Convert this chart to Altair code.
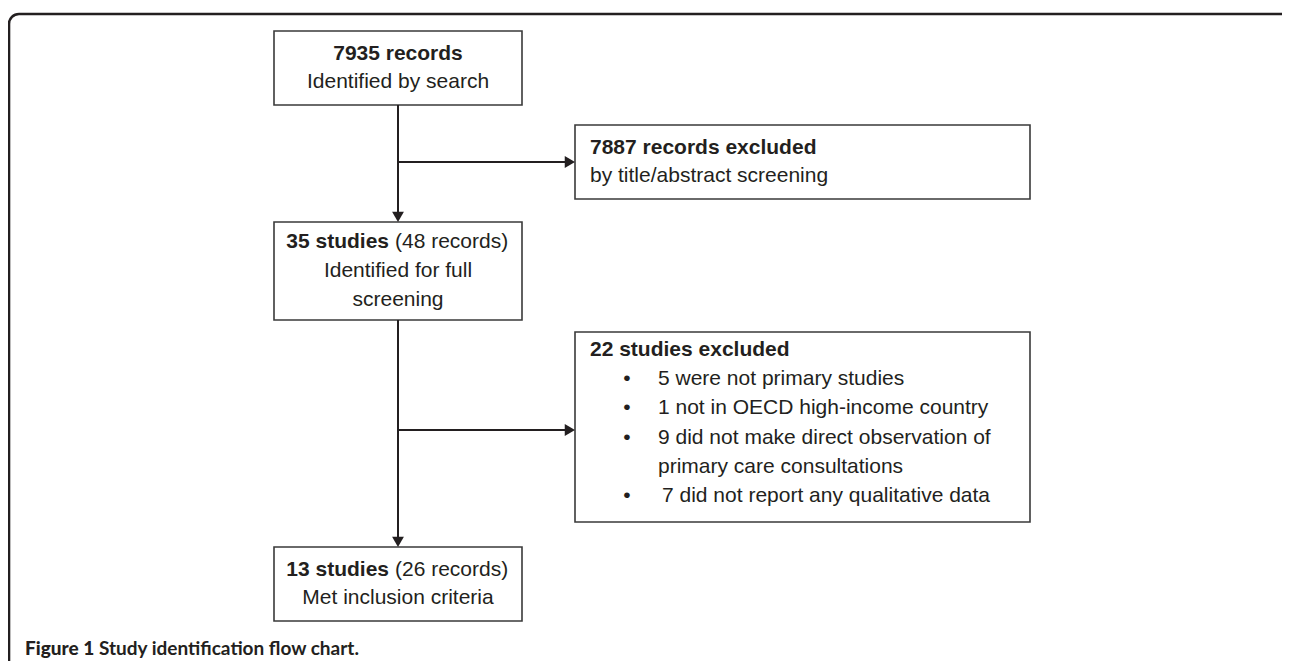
import altair as alt
import pandas as pd

# ---------------- content ----------------
heading_bold = ["7935 records", "7887 records excluded", "35 studies", "22 studies excluded", "13 studies"]
heading_rest = ["", "", "(48 records)", "", "(26 records)"]
box_notes = [["Identified by search"], ["by title/abstract screening"],
             ["Identified for full", "screening"], [], ["Met inclusion criteria"]]
reasons = ["5 were not primary studies", "1 not in OECD high-income country",
           "9 did not make direct observation of", "primary care consultations",
           "7 did not report any qualitative data"]
reason_bullet = [True, True, True, False, True]
caption_bold = "Figure 1"
caption_rest = "Study identification flow chart."

# ---------------- layout (page pixels) ----------------
W, H = 1274, 653
box_x0 = [274, 575, 274, 575, 274]
box_x1 = [522, 1030, 522, 1030, 522]
box_y0 = [31, 125, 222, 332, 547]
box_y1 = [105, 199, 320, 522, 621]
box_centered = [True, False, True, False, True]
line_gap = 28.7
spine_x = 398
branch_y = [162, 430]
text_inset = 15

ink = "#231f20"
box_stroke = "#3a3a3a"
FONT = "Liberation Sans"
FS = 21

X = lambda f: alt.X(f, type="quantitative", scale=alt.Scale(domain=[8, 8 + W], nice=False, zero=False), axis=None)
Y = lambda f: alt.Y(f, type="quantitative", scale=alt.Scale(domain=[8, 8 + H], nice=False, zero=False, reverse=True), axis=None)

# boxes
boxes = pd.DataFrame({"x0": box_x0, "x1": box_x1, "y0": box_y0, "y1": box_y1})

# text rows
cb, cr, lb, lr, rb = [], [], [], [], []
bullets = []
for i in range(5):
    n_lines = 1 + len(box_notes[i])
    cy = (box_y0[i] + box_y1[i]) / 2
    ys = [cy - line_gap * (n_lines - 1) / 2 + k * line_gap for k in range(n_lines)]
    if box_centered[i]:
        cx = (box_x0[i] + box_x1[i]) / 2
        if heading_rest[i]:
            rb.append({"x": cx - 9, "y": ys[0], "t": heading_bold[i]})
            lr.append({"x": cx - 3, "y": ys[0], "t": heading_rest[i]})
        else:
            cb.append({"x": cx, "y": ys[0], "t": heading_bold[i]})
        for k, note in enumerate(box_notes[i]):
            cr.append({"x": cx, "y": ys[k + 1], "t": note})
    else:
        tx = box_x0[i] + text_inset
        if box_notes[i]:
            lb.append({"x": tx, "y": ys[0], "t": heading_bold[i]})
            for k, note in enumerate(box_notes[i]):
                lr.append({"x": tx, "y": ys[k + 1], "t": note})
        else:
            top = box_y0[i] + 18
            lb.append({"x": tx, "y": top, "t": heading_bold[i]})
            for k, r in enumerate(reasons):
                yy = top + (k + 1) * 29.2
                lr.append({"x": tx + 68 + (4 if k == len(reasons) - 1 else 0), "y": yy, "t": r})
                if reason_bullet[k]:
                    bullets.append({"x": tx + 37, "y": yy, "t": "\u2022"})

bul_df = pd.DataFrame(bullets)

def text_layer(rows, align, weight, font=FONT, size=FS):
    return alt.Chart(pd.DataFrame(rows)).mark_text(
        align=align, baseline="middle", font=font, fontSize=size, fontWeight=weight, color=ink
    ).encode(x=X("x"), y=Y("y"), text="t:N")

# connectors
segs = pd.DataFrame({
    "x": [spine_x, spine_x, spine_x, spine_x],
    "x2": [spine_x, box_x0[1] - 6, spine_x, box_x0[3] - 6],
    "y": [box_y1[0], branch_y[0], box_y1[2], branch_y[1]],
    "y2": [box_y0[2] - 6, branch_y[0], box_y0[4] - 6, branch_y[1]],
})
head_size = 140
hoff = 0.866 * (head_size ** 0.5) / 2
heads_down = pd.DataFrame({"x": [spine_x, spine_x], "y": [box_y0[2] - hoff, box_y0[4] - hoff]})
heads_right = pd.DataFrame({"x": [box_x0[1] - hoff, box_x0[3] - hoff], "y": branch_y})

frame = pd.DataFrame({"x0": [9], "x1": [1340], "y0": [14], "y1": [760]})

layers = [
    alt.Chart(frame).mark_rect(fillOpacity=0, stroke=ink, strokeWidth=2.6, cornerRadius=10, clip=True).encode(
        x=X("x0"), x2="x1", y=Y("y0"), y2="y1"),
    alt.Chart(boxes).mark_rect(fill="white", stroke=box_stroke, strokeWidth=1.6).encode(
        x=X("x0"), x2="x1", y=Y("y0"), y2="y1"),
    alt.Chart(segs).mark_rule(color=ink, strokeWidth=2).encode(x=X("x"), x2="x2", y=Y("y"), y2="y2"),
    alt.Chart(heads_down).mark_point(shape="triangle-down", filled=True, size=head_size, color=ink, opacity=1).encode(
        x=X("x"), y=Y("y")),
    alt.Chart(heads_right).mark_point(shape="triangle-right", filled=True, size=head_size, color=ink, opacity=1).encode(
        x=X("x"), y=Y("y")),
    text_layer(cb, "center", "bold"),
    text_layer(cr, "center", "normal"),
    text_layer(lb, "left", "bold"),
    text_layer(lr, "left", "normal"),
    text_layer(rb, "right", "bold"),
    alt.Chart(bul_df).mark_text(align="center", baseline="middle", font=FONT, fontSize=FS, color=ink).encode(
        x=X("x"), y=Y("y"), text="t:N"),
    text_layer([{"x": 25, "y": 649, "t": caption_bold}], "left", 900, font="Lato", size=19),
    text_layer([{"x": 99, "y": 649, "t": caption_rest}], "left", "bold", font="Lato", size=19),
]

chart = alt.layer(*layers).properties(
    width=W, height=H, padding=0, autosize=alt.AutoSizeParams(type="none")
).configure_view(stroke=None)

chart.save("out.html", embed_options={"renderer": "svg", "actions": False})
